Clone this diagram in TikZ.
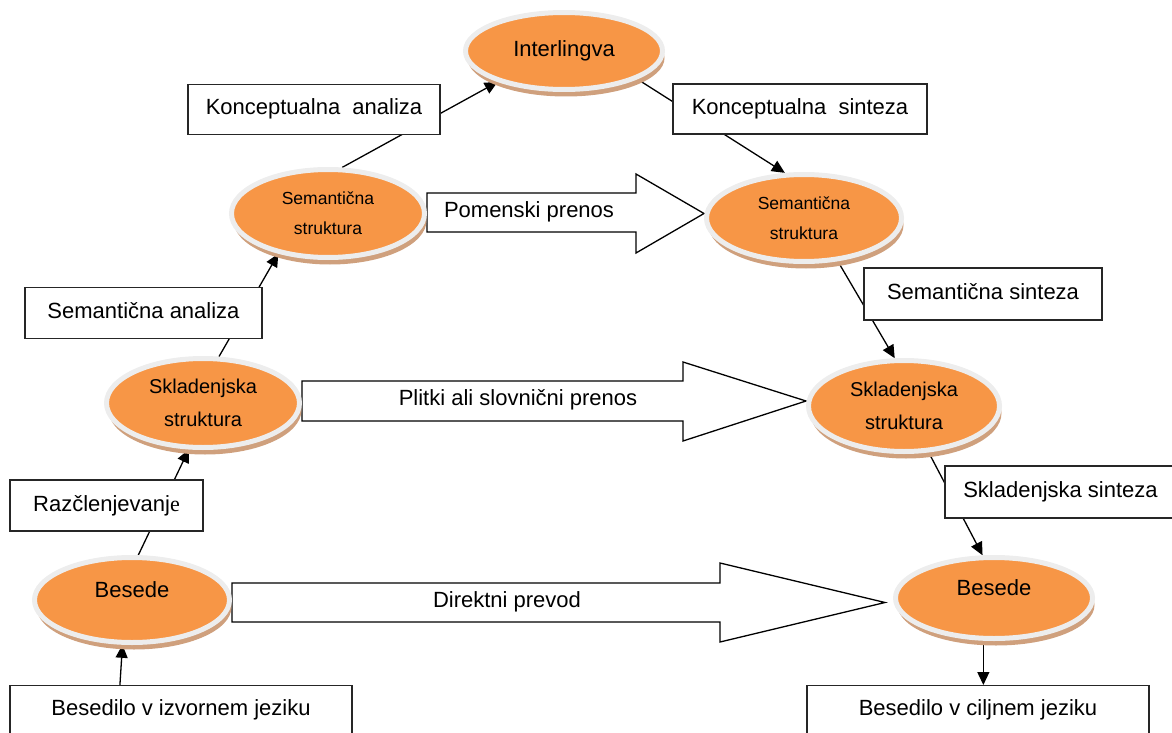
\documentclass[tikz,border=0pt]{standalone}
\usepackage{fontspec}
\setmainfont{Liberation Sans}
\newfontfamily\serifF{Liberation Serif}
\usetikzlibrary{shapes.geometric,arrows.meta,shadows,calc}
\definecolor{orangefill}{HTML}{F79646}
\definecolor{ringgray}{HTML}{EDEDED}
\definecolor{shadowbrown}{HTML}{CFA07D}
\pgfdeclarelayer{bg}
\pgfsetlayers{bg,main}
\begin{document}
\begin{tikzpicture}[x=1pt,y=-1pt,
  ell/.style={ellipse, fill=orangefill, draw=ringgray, line width=5pt, inner sep=0pt,
    align=center, text=black,
    drop shadow={shadow xshift=2pt, shadow yshift=-7pt, fill=shadowbrown, opacity=1}},
  bigtxt/.style={font=\fontsize{22}{26}\selectfont},
  semtxt/.style={font=\fontsize{17.5}{30}\selectfont},
  sktxt/.style={font=\fontsize{20}{33}\selectfont},
  box/.style={draw=black!85, fill=white, line width=1.2pt, inner sep=0pt,
    font=\fontsize{22}{26}\selectfont, text height=16pt, text depth=5pt},
  conn/.style={draw=black, line width=1.3pt, -{Triangle[length=13pt,width=12pt]}},
  blockarrow/.style={draw=black, line width=1.3pt, fill=white, line join=miter},
]
\useasboundingbox (0,0) rectangle (1172,733);
\clip (0,0) rectangle (1172,733);

% ellipses
\node[ell, bigtxt, minimum width=197pt, minimum height=77pt] (inter) at (564,51) {Interlingva};
\node[ell, semtxt, minimum width=193pt, minimum height=88pt] (semL) at (328,213.5) {Semantična\\struktura};
\node[ell, semtxt, minimum width=195pt, minimum height=87pt] (semR) at (804,218) {Semantična\\struktura};
\node[ell, sktxt, minimum width=193pt, minimum height=89pt] (skL) at (203,403) {Skladenjska\\struktura};
\node[ell, sktxt, minimum width=191pt, minimum height=91pt] (skR) at (904,406) {Skladenjska\\struktura};
\node[ell, bigtxt, text depth=20pt, minimum width=195pt, minimum height=85pt] (beL) at (132,600) {Besede};
\node[ell, bigtxt, text depth=20pt, minimum width=197pt, minimum height=81pt] (beR) at (994,598) {Besede};

% boxes
\node[box, minimum width=252pt, minimum height=50pt] (ka) at (314,109.5) {Konceptualna\ \ analiza};
\node[box, minimum width=254pt, minimum height=50pt] (ks) at (800,109) {Konceptualna\ \ sinteza};
\node[box, minimum width=237pt, minimum height=51pt] (sa) at (143.5,313) {Semantična analiza};
\node[box, minimum width=238pt, minimum height=52pt] (ss) at (983,294) {Semantična sinteza};
\node[box, minimum width=193pt, minimum height=51pt] (rz) at (106.5,505.5) {Razčlenjevanj{\serifF e}};
\node[box, minimum width=231pt, minimum height=52pt] (sks) at (1060.5,492) {Skladenjska sinteza};
\node[box, anchor=north, minimum width=342pt, text height=30pt, text depth=25pt] (bi) at (181,685) {Besedilo v izvornem jeziku};
\node[box, anchor=north, minimum width=342pt, text height=30pt, text depth=25pt] (bc) at (978,685) {Besedilo v ciljnem jeziku};

% block arrow labels
\node[bigtxt] (pomT) at (529,212) {Pomenski prenos};
\node[bigtxt] (plT) at (518,400) {Plitki ali slovnični prenos};
\node[bigtxt] (drT) at (507,602) {Direktni prevod};

\begin{pgfonlayer}{bg}
% connectors
\draw[conn] (semL.73) -- (inter.-155);
\draw[conn] (inter.-21.6) -- (semR.113);
\draw[conn] (skL.71.6) -- (semL.-141);
\draw[conn] (beL.82) -- (skL.-107);
\draw[conn] (semR.-52) -- (skR.101.7);
\draw[conn] (skR.-62) -- (beR.105);
\draw[conn] ($(bi.north west)!0.322!(bi.north east)$) -- (beL.-102);
\draw[conn] (beR.-104) -- (beR.-104 |- bc.north);
% block arrows
\draw[blockarrow] (semL.east |- 0,193) -- (636,193) -- (636,174) -- (semR.west |- 0,213.5)
  -- (636,253) -- (636,232) -- (semL.east |- 0,232) -- cycle;
\draw[blockarrow] (skL.east |- 0,381) -- (683,381) -- (683,362) -- (skR.west |- 0,401)
  -- (683,441) -- (683,421) -- (skL.east |- 0,421) -- cycle;
\draw[blockarrow] (beL.east |- 0,583) -- (720,583) -- (720,563) -- ([xshift=-8pt]beR.west |- 0,602.5)
  -- (720,642) -- (720,622) -- (beL.east |- 0,622) -- cycle;
\end{pgfonlayer}
\end{tikzpicture}
\end{document}
